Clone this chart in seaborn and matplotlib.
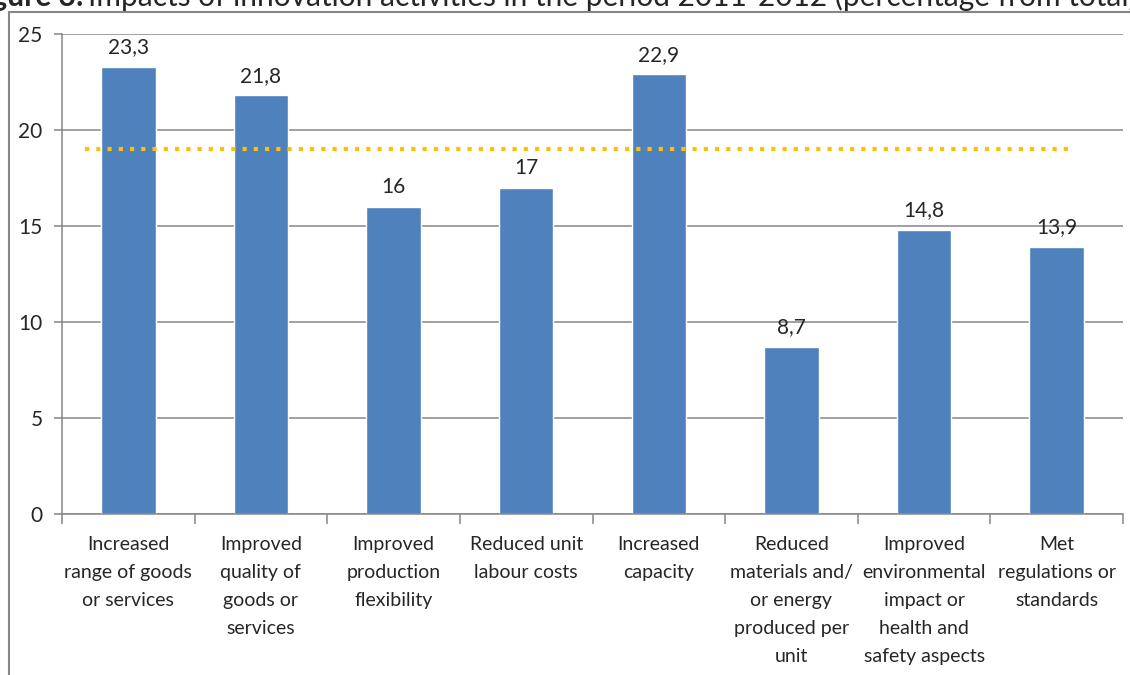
import matplotlib
matplotlib.use("Agg")
import matplotlib.pyplot as plt
import seaborn as sns
import pandas as pd
from matplotlib.patches import Rectangle

categories = [
    "Increased\nrange of goods\nor services",
    "Improved\nquality of\ngoods or\nservices",
    "Improved\nproduction\nflexibility",
    "Reduced unit\nlabour costs",
    "Increased\ncapacity",
    "Reduced\nmaterials and/\nor energy\nproduced per\nunit",
    "Improved\nenvironmental\nimpact or\nhealth and\nsafety aspects",
    "Met\nregulations or\nstandards",
]
values = [23.3, 21.8, 16, 17, 22.9, 8.7, 14.8, 13.9]
value_labels = ["23,3", "21,8", "16", "17", "22,9", "8,7", "14,8", "13,9"]
average = 19
y_ticks = [0, 5, 10, 15, 20, 25]

sns.set_style("white")
plt.rcParams["font.family"] = ["Lato", "DejaVu Sans"]

fig = plt.figure(figsize=(11.3, 6.75), dpi=100)
W, H = 1130, 675
ax = fig.add_axes([62 / W, 1 - 514 / H, (1123 - 62) / W, (514 - 34) / H])

df = pd.DataFrame({"cat": categories, "val": values})
sns.barplot(data=df, x="cat", y="val", color="#4F81BD", saturation=1,
            width=0.41, ax=ax)

ax.set_xlim(-0.5, 7.5)
ax.set_ylim(0, 25)
ax.set_yticks(y_ticks)
ax.set_yticklabels([str(t) for t in y_ticks], fontsize=15)
ax.yaxis.grid(True, color="#868686", linewidth=1.1)
ax.set_axisbelow(True)
ax.set_xlabel("")
ax.set_ylabel("")

# x ticks at category boundaries, labels at centers
ax.set_xticks([i - 0.5 for i in range(9)], minor=False)
ax.set_xticklabels([])
ax.set_xticks(range(8), minor=True)
ax.set_xticklabels(categories, minor=True, fontsize=14, linespacing=1.78,
                   va="top")
ax.tick_params(axis="x", which="major", direction="out", length=7,
               color="#868686", width=1.1, bottom=True)
ax.tick_params(axis="x", which="minor", length=0, pad=16, bottom=True)
ax.tick_params(axis="y", direction="out", length=6, color="#868686",
               width=1.1, left=True, pad=8)

for s in ["top", "right"]:
    ax.spines[s].set_visible(False)
for s in ["left", "bottom"]:
    ax.spines[s].set_color("#868686")
    ax.spines[s].set_linewidth(1.1)

for i, (v, lab) in enumerate(zip(values, value_labels)):
    ax.annotate(lab, (i, v), xytext=(0, 7), textcoords="offset points",
                ha="center", va="bottom", fontsize=15)

ax.plot([-0.33, 7.13], [average, average], color="#FFC000", linewidth=3,
        linestyle=(0, (1, 1.7)), dash_capstyle="butt")

# outer chart frame
fig.patches.append(Rectangle((9 / W, -0.1), 1.2, 1 - 12 / H + 0.1,
                             transform=fig.transFigure, fill=False,
                             edgecolor="#868686", linewidth=1.5))

# title (partly cut off at the top edge, as in the reference)
fig.text(84 / W, 1 - 6 / H, "Figure 3:", ha="right", va="baseline",
         fontsize=21.5, fontweight="bold")
fig.text(88 / W, 1 - 6 / H,
         "Impacts of innovation activities in the period 2011-2012 (percentage from total)",
         ha="left", va="baseline", fontsize=21.5)

fig.savefig("out.png", dpi=100)
